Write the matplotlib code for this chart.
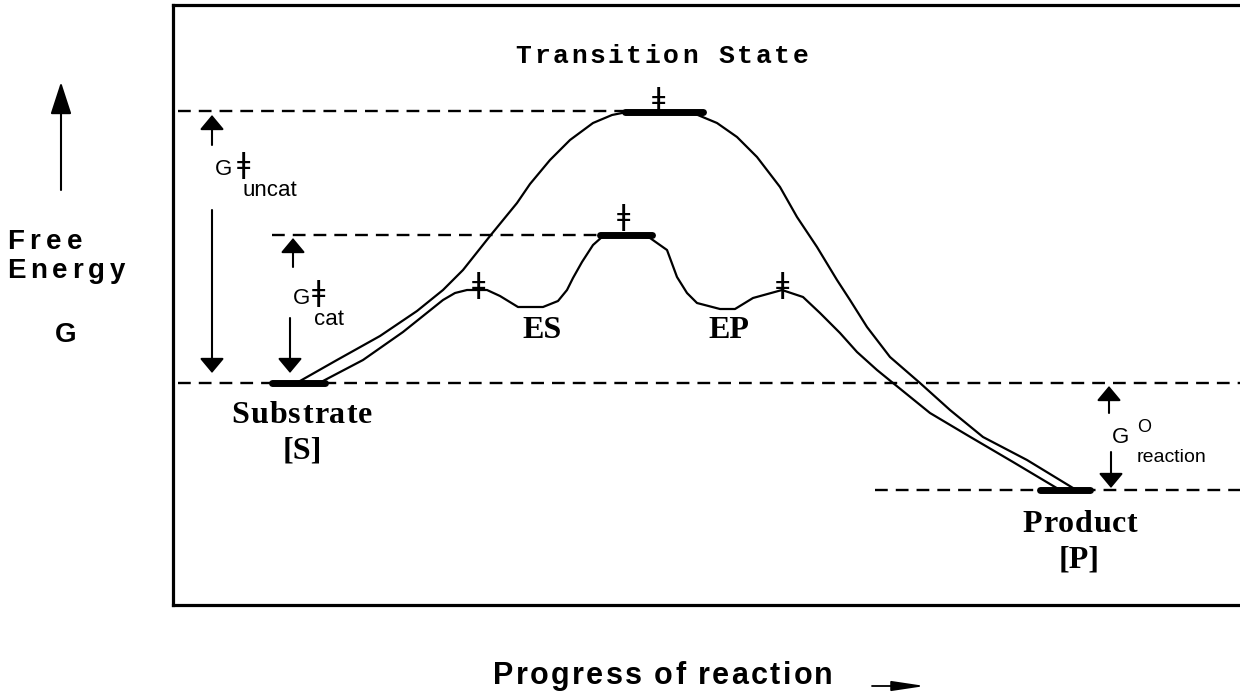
import matplotlib
matplotlib.use('Agg')
import matplotlib.pyplot as plt

# Canvas is laid out in pixels: x = progress of reaction, y = free energy
# (pixel rows, so smaller y means higher energy).
W, H = 1240, 694

# uncatalysed path (outer curve)
uncat_x = [300, 337, 380, 417, 443, 463, 490, 517, 530, 550, 570, 593, 612,
           627, 693, 717, 737, 757, 780, 797, 817, 837, 850, 867, 890, 920,
           950, 983, 1027, 1073]
uncat_y = [381, 360, 336, 311, 290, 270, 236, 203, 184, 160, 140, 123, 115,
           112, 113, 123, 137, 157, 187, 217, 247, 280, 300, 327, 357, 383,
           410, 437, 460, 488]

# catalysed path (ES / EP intermediates)
cat_x = [323, 363, 403, 423, 443, 455, 467, 487, 500, 518, 543, 558, 567,
         573, 582, 593, 602, 625, 650, 667, 677, 687, 697, 720, 735, 753,
         782, 803, 820, 840, 857, 877, 893, 930, 967, 1013, 1060]
cat_y = [381, 360, 332, 316, 300, 293, 290, 290, 296, 307, 307, 301, 290,
         278, 262, 245, 237, 235, 238, 250, 277, 293, 303, 309, 309, 298,
         290, 297, 313, 333, 352, 370, 383, 413, 435, 462, 490]

# dashed reference levels: uncat TS, cat TS, substrate, product
dash_y = [111, 235, 383, 490]
dash_x0 = [178, 272, 178, 875]
dash_x1 = [625, 600, 1240, 1240]

# thick state bars: substrate, uncat TS, cat TS, product
bar_y = [383, 112, 235, 490]
bar_x0 = [272, 625, 600, 1040]
bar_x1 = [325, 703, 652, 1090]

# double-dagger marks on the peaks
dag_x = [658, 623, 478, 782]
dag_bottom = [105, 222, 290, 290]

fig = plt.figure(figsize=(W / 100, H / 100), dpi=100)

# box round the diagram (open on the right, cut by the page edge)
frame = fig.add_axes([173 / W, (H - 605) / H, 1.02, 600 / H])
frame.set_xticks([])
frame.set_yticks([])
frame.spines['right'].set_visible(False)
for s in ['top', 'left', 'bottom']:
    frame.spines[s].set_linewidth(2.3)
frame.patch.set_alpha(0)

ax = fig.add_axes([0, 0, 1, 1])
ax.set_xlim(0, W)
ax.set_ylim(H, 0)
ax.axis('off')
ax.patch.set_alpha(0)

renderer = fig.canvas.get_renderer()


def spaced(s, xc, y, width, space=0.25, **kw):
    '''Write s letter by letter so it spans width pixels, centred on xc.'''
    size_px = kw.get('fontsize', 12) / 0.72
    widths = []
    for ch in s:
        if ch == ' ':
            widths.append(space * size_px)
            continue
        t = ax.text(0, 0, ch, **kw)
        widths.append(t.get_window_extent(renderer).width)
        t.remove()
    extra = (width - sum(widths)) / max(len(s) - 1, 1)
    x = xc - width / 2
    for ch, w in zip(s, widths):
        if ch != ' ':
            ax.text(x, y, ch, ha='left', va='baseline', **kw)
        x += w + extra


def arrow(x0, y0, x1, y1, hl=0.9, hw=0.75, lw=1.5):
    ax.annotate('', xy=(x1, y1), xytext=(x0, y0),
                arrowprops=dict(arrowstyle=f'-|>,head_length={hl},head_width={hw}',
                                color='k', lw=lw, shrinkA=0, shrinkB=0))


ax.hlines(dash_y, dash_x0, dash_x1, colors='k', lw=1.7,
          linestyles=[(0, (5.4, 3.4))])
for y, x0, x1 in zip(bar_y, bar_x0, bar_x1):
    ax.plot([x0, x1], [y, y], color='k', lw=5, solid_capstyle='round')

ax.plot(uncat_x, uncat_y, color='k', lw=1.6, solid_joinstyle='round')
ax.plot(cat_x, cat_y, color='k', lw=1.6, solid_joinstyle='round')

dag = dict(family='DejaVu Sans', fontsize=21)
for x, yb in zip(dag_x, dag_bottom):
    ax.text(x, yb + 3, 'ǂ', ha='center', va='baseline', **dag)

# y axis label
sans_b = dict(family='Liberation Sans', fontweight='bold', fontsize=20)
spaced('Free', 44.5, 249, 75, **sans_b)
spaced('Energy', 66, 278, 118, **sans_b)
ax.text(66, 342, 'G', ha='center', va='baseline', **sans_b)
arrow(61, 190, 61, 82, hl=2.0, hw=0.65)

# x axis label
spaced('Progress of reaction', 663, 684, 340,
       family='Liberation Sans', fontweight='bold', fontsize=22)
arrow(872, 686, 925, 686, hl=2.0, hw=0.3, lw=1.3)

spaced('Transition State', 662, 63, 293, space=0.6,
       family='Liberation Mono', fontweight='bold', fontsize=19)

serif_b = dict(family='Liberation Serif', fontweight='bold', fontsize=23)
spaced('Substrate', 302, 423, 141, **serif_b)
ax.text(302, 458, '[S]', ha='center', va='baseline', **serif_b)
spaced('Product', 1080, 532, 115, **serif_b)
ax.text(1079, 567, '[P]', ha='center', va='baseline', **serif_b)
ax.text(542, 338, 'ES', ha='center', va='baseline', **serif_b)
ax.text(729, 338, 'EP', ha='center', va='baseline', **serif_b)

sans = dict(family='Liberation Sans', fontsize=16)
# uncatalysed barrier
arrow(212, 145, 212, 115)
arrow(212, 210, 212, 373)
ax.text(215, 175, 'G', ha='left', va='baseline', **sans)
ax.text(243, 173, 'ǂ', ha='center', va='baseline', **dag)
ax.text(243, 196, 'uncat', ha='left', va='baseline', **sans)
# catalysed barrier
arrow(293, 267, 293, 238)
arrow(290, 318, 290, 373)
ax.text(293, 304, 'G', ha='left', va='baseline', **sans)
ax.text(318, 301, 'ǂ', ha='center', va='baseline', **dag)
ax.text(314, 325, 'cat', ha='left', va='baseline', **sans)
# reaction free energy
arrow(1109, 413, 1109, 386)
arrow(1111, 452, 1111, 488)
ax.text(1112, 443, 'G', ha='left', va='baseline', **sans)
ax.text(1137, 432, 'O', ha='left', va='baseline', family='Liberation Sans',
        fontsize=13)
ax.text(1137, 462, 'reaction', ha='left', va='baseline',
        family='Liberation Sans', fontsize=14)

fig.savefig('out.png', dpi=100, facecolor='white')
